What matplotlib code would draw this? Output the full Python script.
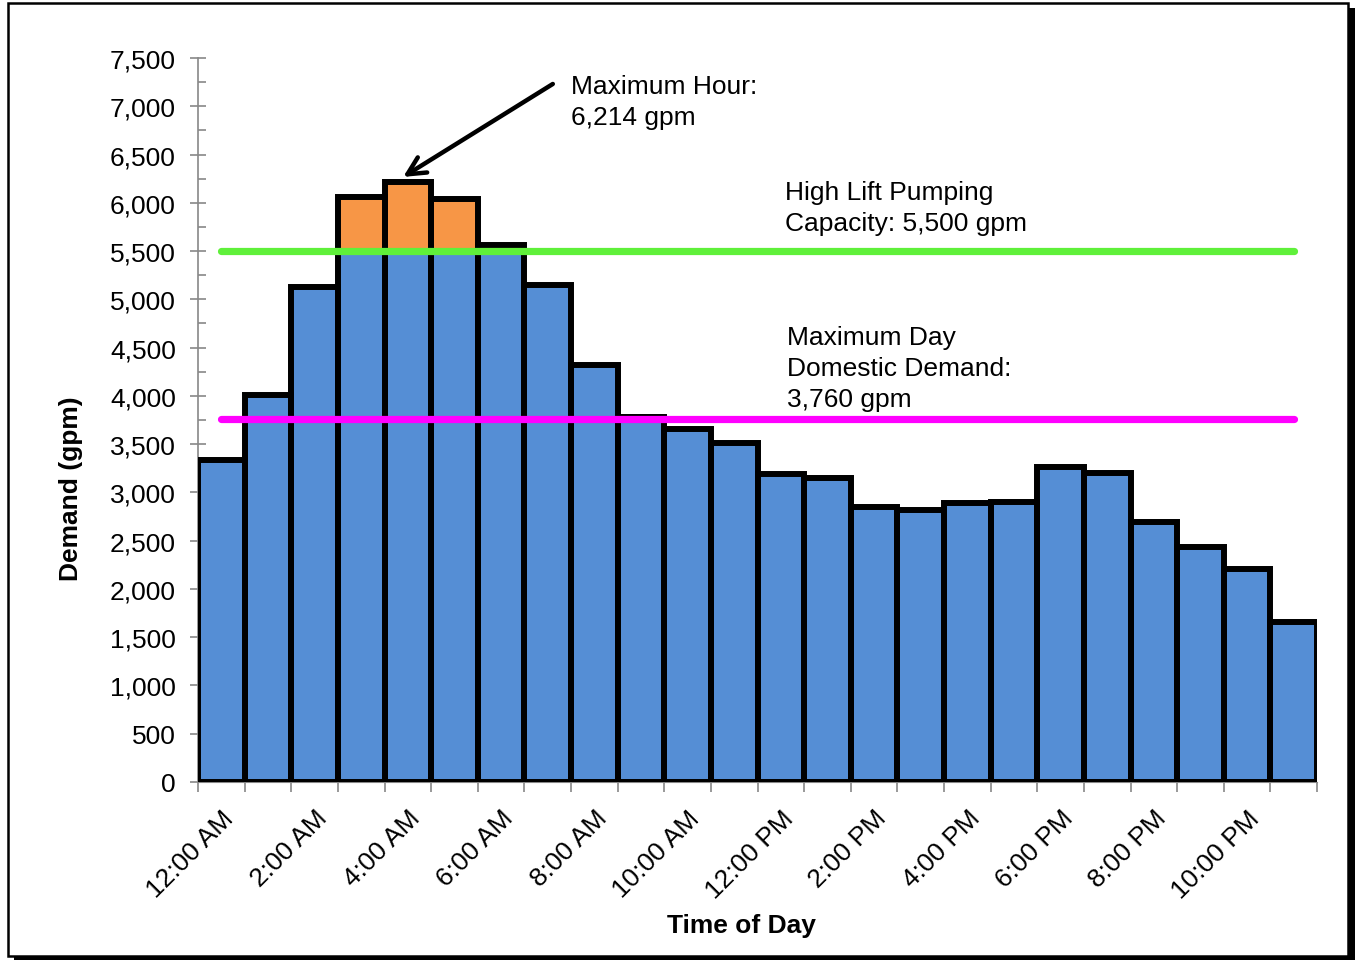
import matplotlib
matplotlib.use("Agg")
import matplotlib.pyplot as plt
from matplotlib.patches import Rectangle
from matplotlib.ticker import MultipleLocator, FuncFormatter
import numpy as np

plt.rcParams['font.family'] = ['Liberation Sans', 'DejaVu Sans']

# hourly demand (gpm), 12:00 AM .. 11:00 PM
horas = ['12:00 AM', '1:00 AM', '2:00 AM', '3:00 AM', '4:00 AM', '5:00 AM',
         '6:00 AM', '7:00 AM', '8:00 AM', '9:00 AM', '10:00 AM', '11:00 AM',
         '12:00 PM', '1:00 PM', '2:00 PM', '3:00 PM', '4:00 PM', '5:00 PM',
         '6:00 PM', '7:00 PM', '8:00 PM', '9:00 PM', '10:00 PM', '11:00 PM']
demanda = [3340, 4010, 5130, 6065, 6214, 6035, 5560, 5145, 4320, 3780, 3655, 3510,
           3195, 3145, 2850, 2815, 2890, 2905, 3268, 3198, 2698, 2430, 2208, 1662]
capacidad_bombeo = 5500
demanda_max_dia = 3760
max_hora = 6214

azul = '#558ed5'
naranja = '#f79646'
verde = '#5ff03a'
magenta = '#ff00ff'

fig = plt.figure(figsize=(13.56, 9.62), dpi=100)
W, H = 1356, 962

# marco de pagina con sombra
fig.add_artist(Rectangle((14 / W, 1 - 961 / H), (1355 - 14) / W, (961 - 9) / H,
                         transform=fig.transFigure, facecolor='black', edgecolor='none', zorder=-2))
fig.add_artist(Rectangle((8 / W, 1 - 957 / H), (1348 - 8) / W, (957 - 4) / H,
                         transform=fig.transFigure, facecolor='white', edgecolor='black',
                         linewidth=1.8, zorder=-1))

ax = fig.add_axes([198 / W, 1 - 783 / H, (1317 - 198) / W, (783 - 59) / H])
ax.set_facecolor('none')

x = np.arange(len(demanda))
d = np.array(demanda)
base = np.minimum(d, capacidad_bombeo)
exceso = np.clip(d - capacidad_bombeo, 0, None)

ax.bar(x, base, width=1.0, color=azul, edgecolor='none', zorder=2)
ax.bar(x, exceso, bottom=capacidad_bombeo, width=1.0, color=naranja, edgecolor='none', zorder=2)
ax.bar(x, d, width=1.0, facecolor='none', edgecolor='black', linewidth=4.3, zorder=3)

ax.plot([0, len(d) - 1], [capacidad_bombeo] * 2, color=verde, lw=5.2,
        solid_capstyle='round', zorder=4)
ax.plot([0, len(d) - 1], [demanda_max_dia] * 2, color=magenta, lw=5.2,
        solid_capstyle='round', zorder=4)

ax.set_xlim(-0.5, len(d) - 0.5)
ax.set_ylim(0, 7500)

fs = 19
ax.yaxis.set_major_locator(MultipleLocator(500))
ax.yaxis.set_minor_locator(MultipleLocator(250))
ax.yaxis.set_major_formatter(FuncFormatter(lambda v, p: f'{int(v):,}'))
ax.tick_params(axis='y', which='major', direction='inout', length=12, width=1.2,
               color='#888888', labelsize=fs, pad=10)
ax.tick_params(axis='y', which='minor', direction='in', length=6, width=1.2, color='#888888')

ax.set_xticks(x[::2])
ax.set_xticklabels(horas[::2], rotation=45, ha='right', rotation_mode='anchor')
ax.set_xticks(np.arange(-0.5, len(d) + 0.5, 1), minor=True)
ax.tick_params(axis='x', which='major', length=0, labelsize=fs, pad=17)
ax.tick_params(axis='x', which='minor', direction='out', length=7, width=1.2, color='#888888')

for s in ['top', 'right']:
    ax.spines[s].set_visible(False)
ax.spines['left'].set_color('#888888')
ax.spines['left'].set_linewidth(1.2)
ax.spines['bottom'].set_color('#888888')

ax.set_ylabel('Demand (gpm)', fontsize=fs, fontweight='bold')
ax.yaxis.set_label_coords(-0.103, 0.407)
ax.set_xlabel('Time of Day', fontsize=fs, fontweight='bold')
ax.xaxis.set_label_coords(0.486, -0.181)

ax.annotate('', xy=(3.9, 6268), xytext=(7.11, 7231),
            arrowprops=dict(arrowstyle='->', lw=3.2, color='black', mutation_scale=32,
                            shrinkA=0, shrinkB=0), zorder=5)
ax.text(7.5, 7335, f'Maximum Hour:\n{max_hora:,} gpm', fontsize=fs, va='top', ha='left',
        linespacing=1.38, zorder=5)
ax.text(12.08, 6240, f'High Lift Pumping\nCapacity: {capacidad_bombeo:,} gpm', fontsize=fs,
        va='top', ha='left', linespacing=1.38, zorder=5)
ax.text(12.13, 4735, f'Maximum Day\nDomestic Demand:\n{demanda_max_dia:,} gpm', fontsize=fs,
        va='top', ha='left', linespacing=1.38, zorder=5)

fig.savefig('out.png', dpi=100)
